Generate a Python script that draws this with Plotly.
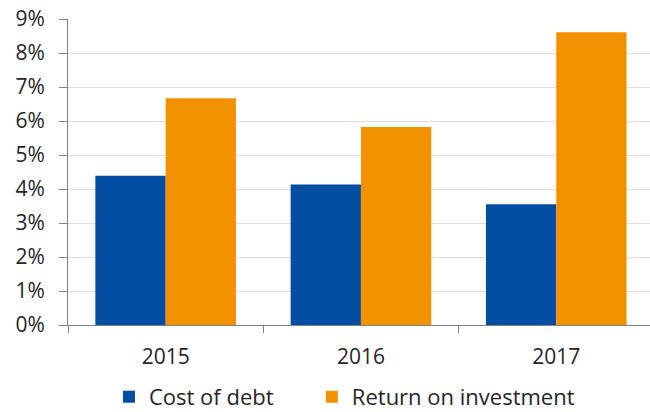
import plotly.graph_objects as go

years = ["2015", "2016", "2017"]
cost_of_debt = [0.0439, 0.0413, 0.0355]
return_on_investment = [0.0667, 0.0582, 0.0861]
y_ticks = [0, 0.01, 0.02, 0.03, 0.04, 0.05, 0.06, 0.07, 0.08, 0.09]
y_tick_labels = ["0%", "1%", "2%", "3%", "4%", "5%", "6%", "7%", "8%", "9%"]

FONT = "Open Sans"
TXT = "#262626"
fig = go.Figure()
fig.add_trace(go.Bar(name="Cost of debt", x=years, y=cost_of_debt, legend="legend",
                     marker=dict(color="#034EA2", line=dict(width=0))))
fig.add_trace(go.Bar(name="Return on investment", x=years, y=return_on_investment,
                     legend="legend2",
                     marker=dict(color="#F39200", line=dict(width=0))))

leg_common = dict(orientation="h", xanchor="left", y=-0.235, yanchor="middle",
                  font=dict(family=FONT, size=22, color=TXT), itemwidth=30,
                  bgcolor="rgba(0,0,0,0)")

fig.update_layout(
    width=650, height=412,
    margin=dict(l=68, r=0, t=19, b=87, autoexpand=False),
    paper_bgcolor="white", plot_bgcolor="white",
    barmode="group", bargap=0.28, bargroupgap=0,
    font=dict(family=FONT, size=21, color=TXT),
    showlegend=True,
    legend=dict(x=0.0704, **leg_common),
    legend2=dict(x=0.419, **leg_common),
    xaxis=dict(type="category", range=[-0.5, 2.48], tickson="boundaries",
               ticks="outside", ticklen=7, tickcolor="#808080", tickwidth=1,
               showline=True, linecolor="#808080", linewidth=1,
               showgrid=False, tickfont=dict(size=21, color=TXT),
               ticklabelstandoff=13),
    yaxis=dict(range=[0, 0.09], tickvals=y_ticks, ticktext=y_tick_labels,
               ticks="outside", ticklen=8, tickcolor="#808080", tickwidth=1,
               showline=True, linecolor="#808080", linewidth=1,
               showgrid=True, gridcolor="#DEDEDE", gridwidth=1,
               zeroline=False, ticklabelstandoff=10,
               tickfont=dict(size=21, color=TXT)),
)
fig.write_html("out.html")
